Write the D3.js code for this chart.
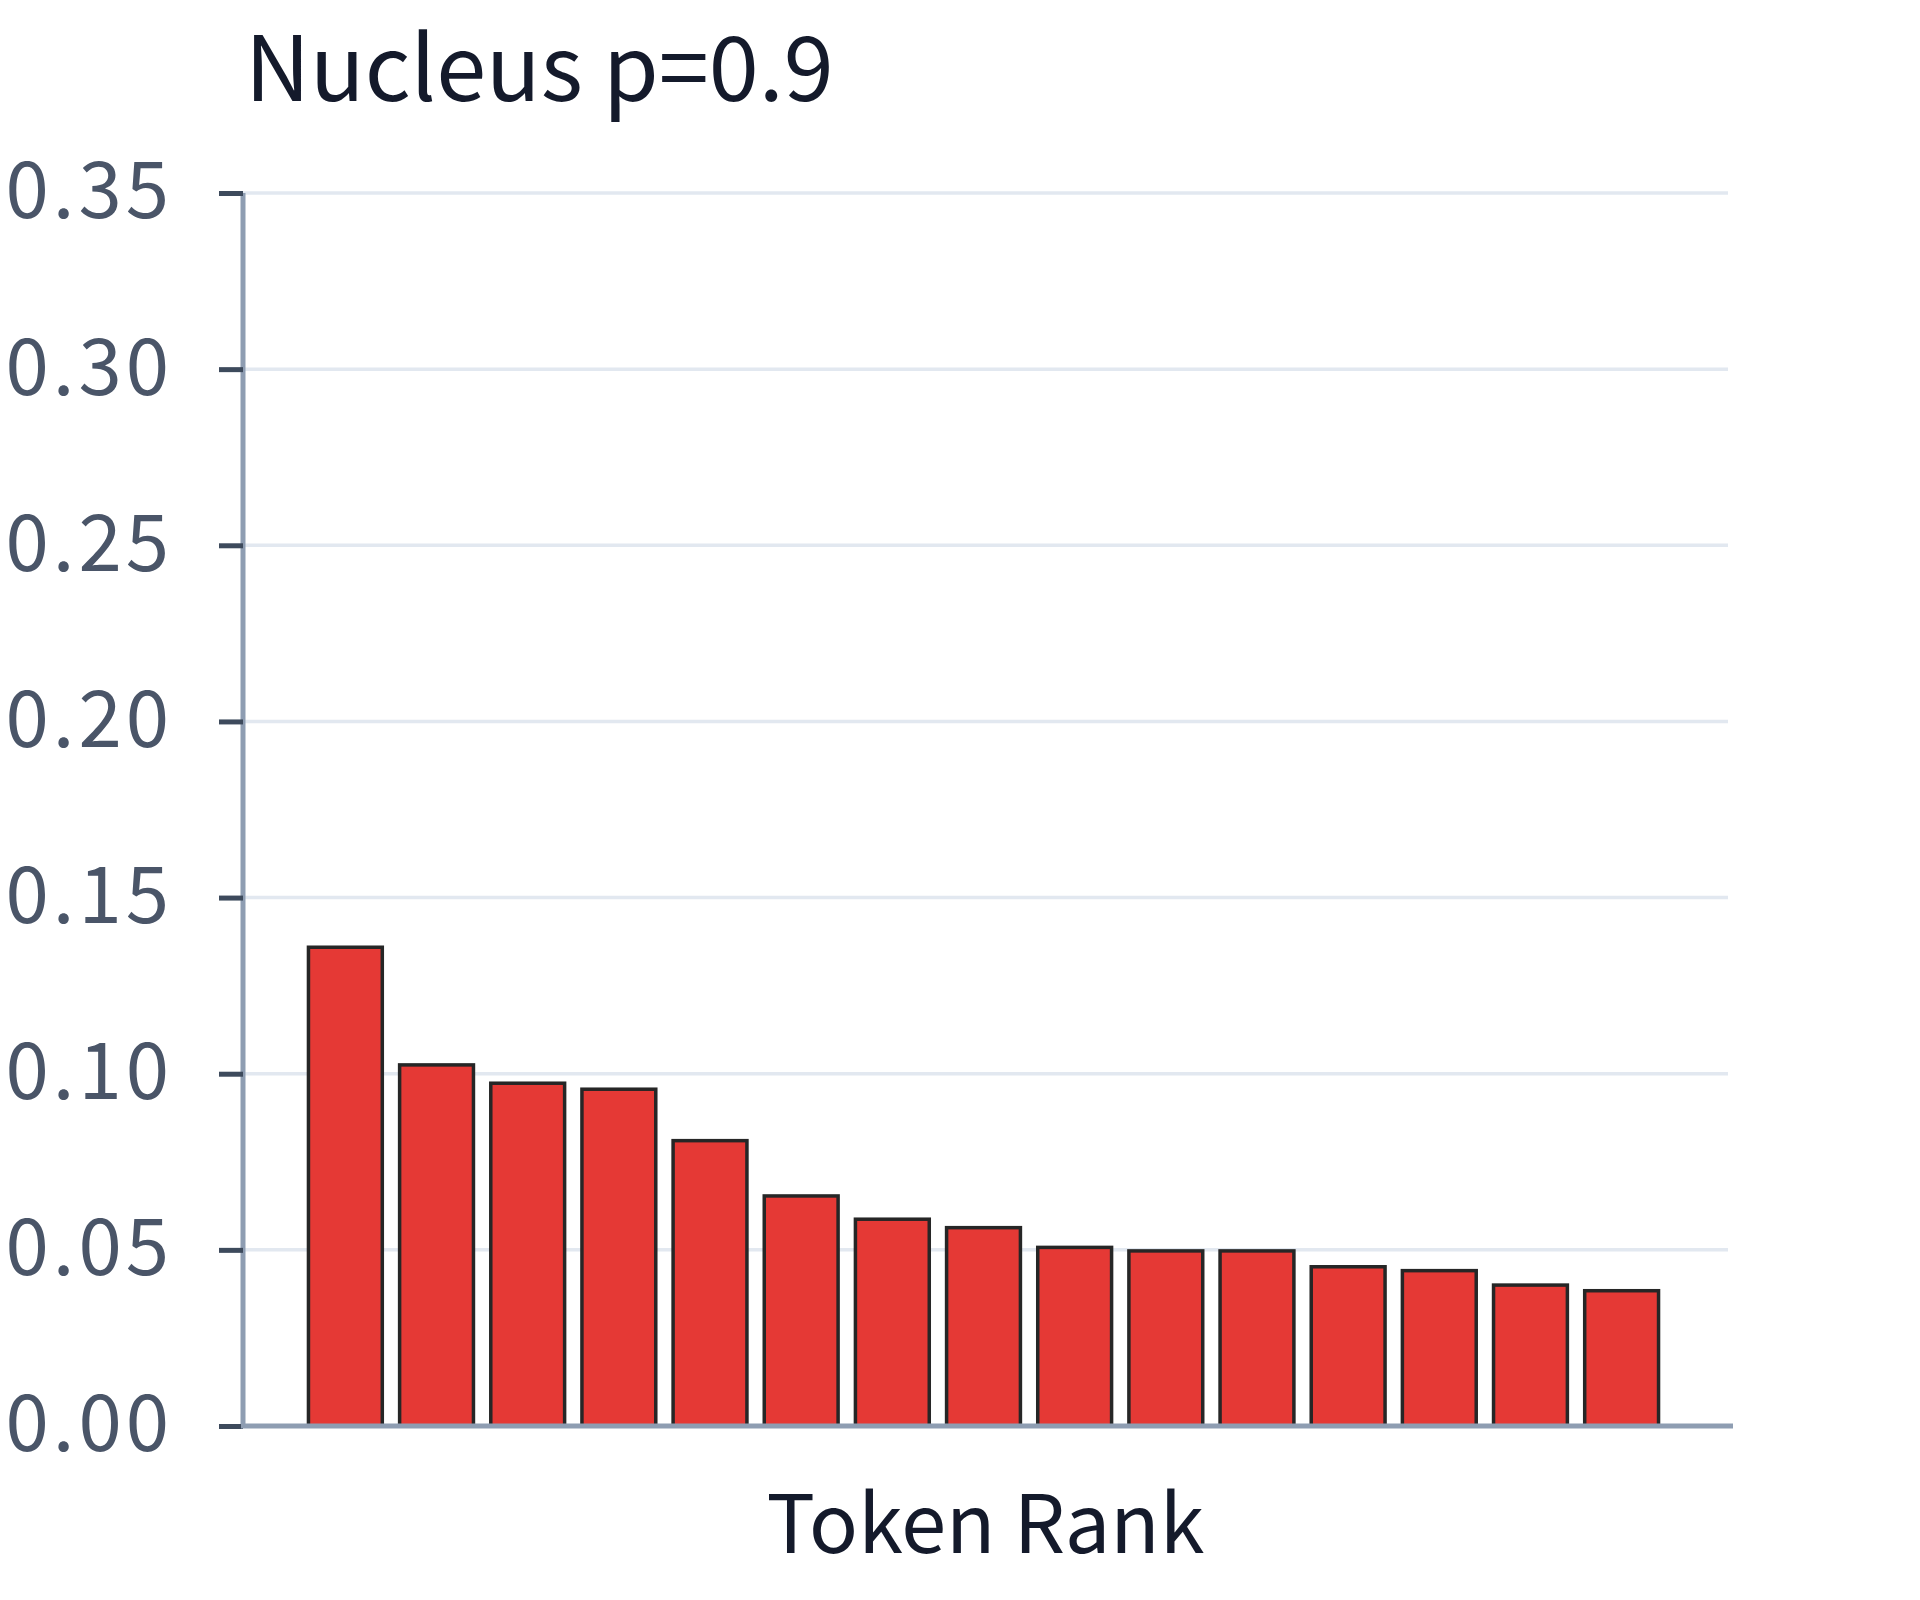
<!DOCTYPE html>
<html>
<head>
<meta charset="utf-8">
<script src="https://cdn.jsdelivr.net/npm/d3@7"></script>
<style>
  body { margin: 0; background: #fff; }
  svg text { font-family: "Noto Sans CJK KR", "Noto Sans", sans-serif; }
  .axis--y text { letter-spacing: 4px; }
</style>
</head>
<body>
<svg id="chart"></svg>
<script>
var ranks = d3.range(1, 16);
var probs = [0.1359, 0.1025, 0.0973, 0.0956, 0.0810, 0.0653, 0.0587, 0.0563,
             0.0507, 0.0497, 0.0497, 0.0452, 0.0441, 0.0400, 0.0384];
var yTicks = [0, 0.05, 0.10, 0.15, 0.20, 0.25, 0.30, 0.35];

var margin = {top: 193, right: 192, bottom: 174, left: 243},
    width = 1920 - margin.left - margin.right,
    height = 1600 - margin.top - margin.bottom;

var svg = d3.select("#chart")
    .attr("width", 1920)
    .attr("height", 1600)
    .style("overflow", "visible");

var g = svg.append("g")
    .attr("transform", "translate(" + margin.left + "," + margin.top + ")");

var x = d3.scaleBand().domain(ranks).range([0, width]).paddingInner(0.19).paddingOuter(0.74),
    y = d3.scaleLinear().domain([0, 0.35]).range([height, 0]);

// gridlines
g.selectAll(".grid")
  .data(yTicks.slice(1))
  .enter().append("line")
    .attr("class", "grid")
    .attr("x1", 0)
    .attr("x2", width)
    .attr("y1", function(d) { return y(d); })
    .attr("y2", function(d) { return y(d); })
    .attr("stroke", "#e2e8f0")
    .attr("stroke-width", 3.5);

g.selectAll(".bar")
  .data(probs)
  .enter().append("rect")
    .attr("class", "bar")
    .attr("x", function(d, i) { return x(ranks[i]) - 2; })
    .attr("y", function(d) { return y(d); })
    .attr("width", x.bandwidth())
    .attr("height", function(d) { return height - y(d); })
    .attr("fill", "#e53935")
    .attr("stroke", "#262626")
    .attr("stroke-width", 3.5);

var yAxis = g.append("g")
    .attr("class", "axis axis--y")
    .call(d3.axisLeft(y).tickValues(yTicks).tickFormat(d3.format(".2f")).tickSize(24).tickPadding(46));
yAxis.select(".domain").attr("stroke", "#8e9db2").attr("stroke-width", 5)
    .attr("d", "M0," + height + "V0");
yAxis.selectAll(".tick line").attr("stroke", "#3d4a5c").attr("stroke-width", 5);
yAxis.selectAll(".tick text")
    .attr("fill", "#4a5568")
    .attr("font-size", 78)
    .attr("font-family", "'Noto Sans CJK KR', 'Noto Sans', sans-serif");

var xAxis = g.append("g")
    .attr("class", "axis axis--x")
    .attr("transform", "translate(0," + height + ")");
xAxis.append("line")
    .attr("x1", -2)
    .attr("x2", width + 5)
    .attr("stroke", "#8e9db2")
    .attr("stroke-width", 5);

svg.append("text")
    .attr("x", 245)
    .attr("y", 101)
    .attr("font-size", 90)
    .attr("fill", "#141a2b")
    .text("Nucleus p=0.9");

svg.append("text")
    .attr("x", margin.left + width / 2)
    .attr("y", 1553)
    .attr("text-anchor", "middle")
    .attr("font-size", 81)
    .attr("fill", "#141a2b")
    .text("Token Rank");
</script>
</body>
</html>
